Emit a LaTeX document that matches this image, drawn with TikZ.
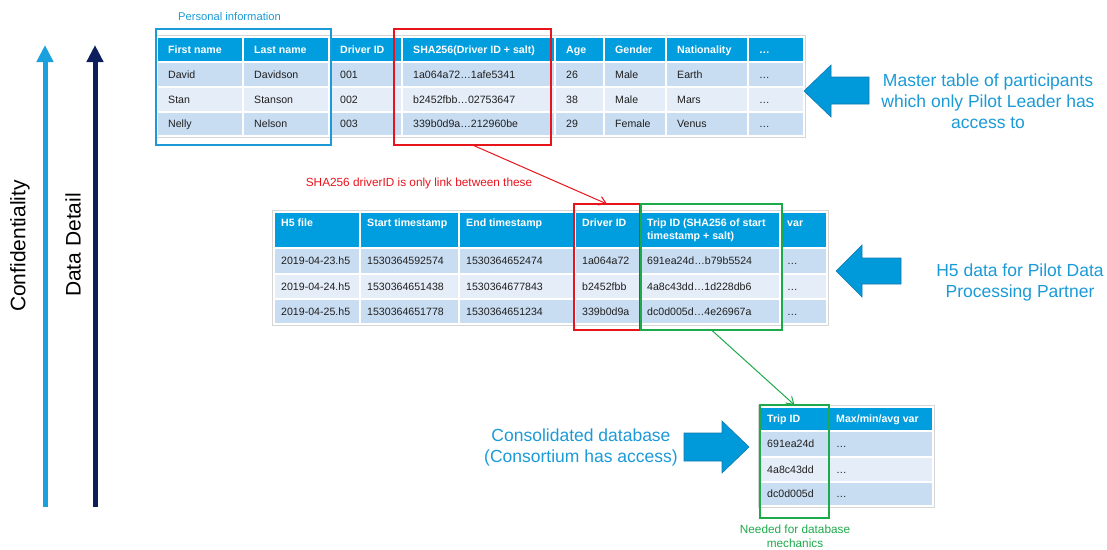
\documentclass[tikz,border=0pt]{standalone}
\usepackage{fontspec}
\setmainfont{Liberation Sans}
\usetikzlibrary{arrows.meta}
\definecolor{hdr}{HTML}{009EDF}
\definecolor{rowA}{HTML}{C9DDF2}
\definecolor{rowB}{HTML}{E5EDF8}
\definecolor{framegray}{HTML}{D6D6D6}
\definecolor{lblue}{HTML}{1B9AD7}
\definecolor{arrowblue}{HTML}{0099DA}
\definecolor{arrowedge}{HTML}{1279AE}
\definecolor{navy}{HTML}{0C1F5C}
\definecolor{confc}{HTML}{1AA0DF}
\definecolor{redc}{HTML}{E8141C}
\definecolor{greenc}{HTML}{1DAA4A}
\definecolor{txt}{HTML}{1F1F1F}
\tikzset{
  cellbg/.style={draw=white, line width=1.6pt, inner sep=0pt, outer sep=0pt},
  mhtxt/.style={font=\fontsize{10.6}{13}\selectfont\bfseries, text=white, inner sep=0pt, align=left},
  htxt/.style={font=\fontsize{10.6}{13}\selectfont\bfseries, text=white, inner sep=0pt, text height=8.6pt, text depth=1pt},
  btxt/.style={font=\fontsize{10.6}{13}\selectfont, text=txt, inner sep=0pt, text height=8.6pt, text depth=1pt},
  tframe/.style={draw=framegray, line width=0.8pt},
  hl/.style={line width=1.6pt, inner sep=0pt, outer sep=0pt},
  bigarrow/.style={fill=arrowblue, draw=arrowedge, line width=0.6pt},
  bigtxt/.style={font=\fontsize{17.5}{21}\selectfont, text=lblue, align=center, inner sep=0pt},
  axistxt/.style={font=\fontsize{21}{25}\selectfont, text=black, rotate=90, inner sep=0pt},
  smalllbl/.style={font=\fontsize{11.8}{14}\selectfont, align=center, inner sep=0pt},
  link/.style={line width=1pt, -{Straight Barb[length=7pt,width=9pt]}},
  axis/.style={line width=5pt, -{Triangle[length=17pt,width=16pt]}}
}
\newcommand\tcell[8]{%
  \node[cellbg, fill=#6, minimum width={(#4)-(#2)}, minimum height={(#5)-(#3)}, anchor=north west] (#1) at (#2,#3) {};
  \node[#7, anchor=west] (#1-t) at ([xshift=\cpad]#1.west) {#8};
}
\newcommand\trow[6]{%
  \foreach \xa/\xb/\cellT [count=\c] in {#6} {\tcell{#1\c}{\xa}{#2}{\xb}{#3}{#4}{#5}{\cellT}}%
}
\begin{document}
\begin{tikzpicture}[x=1pt,y=-1pt]
\useasboundingbox (0,0) rectangle (1107,549);

% ---------- axes ----------
\coordinate (cb) at (45,507); \coordinate (ct) at (45,45);
\coordinate (db) at (95,507); \coordinate (dt) at (95,45);
\draw[axis, confc] (cb) -- (ct);
\draw[axis, navy] (db) -- (dt);
\node[axistxt] (conf) at (20,246) {Confidentiality};
\node[axistxt] (detail) at (73,245) {Data Detail};

% ---------- top table ----------
\def\cpad{11pt}
\draw[tframe] (155.5,35.5) rectangle (805.5,137.5);
\trow{TH}{37}{62}{hdr}{htxt}{157/243/First name, 243/329/Last name, 329/402/Driver ID, 402/555/SHA256(Driver ID + salt), 555/604/Age, 604/666/Gender, 666/748/Nationality, 748/804/…}
\trow{TA}{62}{87}{rowA}{btxt}{157/243/David, 243/329/Davidson, 329/402/001, 402/555/1a064a72…1afe5341, 555/604/26, 604/666/Male, 666/748/Earth, 748/804/…}
\trow{TB}{87}{112}{rowB}{btxt}{157/243/Stan, 243/329/Stanson, 329/402/002, 402/555/b2452fbb…02753647, 555/604/38, 604/666/Male, 666/748/Mars, 748/804/…}
\trow{TC}{112}{136}{rowA}{btxt}{157/243/Nelly, 243/329/Nelson, 329/402/003, 402/555/339b0d9a…212960be, 555/604/29, 604/666/Female, 666/748/Venus, 748/804/…}

\node[hl, draw=lblue, minimum width=175, minimum height=116, anchor=north west] (personal) at (156,29) {};
\node[hl, draw=redc, minimum width=157, minimum height=116, anchor=north west] (redtop) at (394,29) {};
\node[inner sep=0pt, font=\fontsize{11.2}{13}\selectfont, text=lblue] (pilbl) at (229.5,16) {Personal information};

% ---------- middle table ----------
\def\cpad{7pt}
\draw[tframe] (272.5,210.5) rectangle (828.5,325.5);
\trow{MH}{212}{248}{hdr}{mhtxt}{274/360/\strut H5 file\\\strut, 360/459/\strut Start timestamp\\\strut, 459/575/\strut End timestamp\\\strut, 575/640/\strut Driver ID\\\strut, 640/780/\strut Trip ID (SHA256 of start\\\strut timestamp + salt), 780/827/\strut var\\\strut}
\trow{MA}{248}{274}{rowA}{btxt}{274/360/2019-04-23.h5, 360/459/1530364592574, 459/575/1530364652474, 575/640/1a064a72, 640/780/691ea24d…b79b5524, 780/827/…}
\trow{MB}{274}{299}{rowB}{btxt}{274/360/2019-04-24.h5, 360/459/1530364651438, 459/575/1530364677843, 575/640/b2452fbb, 640/780/4a8c43dd…1d228db6, 780/827/…}
\trow{MC}{299}{324}{rowA}{btxt}{274/360/2019-04-25.h5, 360/459/1530364651778, 459/575/1530364651234, 575/640/339b0d9a, 640/780/dc0d005d…4e26967a, 780/827/…}

\node[hl, draw=redc, minimum width=66, minimum height=126, anchor=north west] (redmid) at (574,204) {};
\node[hl, draw=greenc, minimum width=141, minimum height=126, anchor=north west] (greenmid) at (641,204) {};

% ---------- bottom table ----------
\draw[tframe] (758.5,405.5) rectangle (934.5,507.5);
\trow{BH}{407}{431}{hdr}{htxt}{760/829/Trip ID, 829/933/{Max/min/avg var}}
\trow{BA}{431}{457}{rowA}{btxt}{760/829/691ea24d, 829/933/…}
\trow{BB}{457}{482}{rowB}{btxt}{760/829/4a8c43dd, 829/933/…}
\trow{BC}{482}{506}{rowA}{btxt}{760/829/dc0d005d, 829/933/…}

\node[hl, draw=greenc, minimum width=69, minimum height=113, anchor=north west] (greenbot) at (760,405) {};

% ---------- links ----------
\draw[link, redc] (redtop.south) -- (redmid.north);
\draw[link, greenc] (greenmid.south) -- (greenbot.north);
\node[smalllbl, text=redc] (redlbl) at (419,183) {SHA256 driverID is only link between these};
\node[smalllbl, text=greenc] (greenlbl) at (795,536) {Needed for database\\mechanics};

% ---------- block arrows ----------
\draw[bigarrow] (804,91) -- (831,65) -- (831,77) -- (869,77) -- (869,104) -- (831,104) -- (831,117) -- cycle;
\draw[bigarrow] (836,271) -- (862,245) -- (862,258) -- (901,258) -- (901,284) -- (862,284) -- (862,297) -- cycle;
\draw[bigarrow] (749,447) -- (722,421) -- (722,433) -- (684,433) -- (684,461) -- (722,461) -- (722,473) -- cycle;

% ---------- big labels ----------
\node[bigtxt] (lbl1) at (988,101) {Master table of participants\\which only Pilot Leader has\\access to};
\node[bigtxt] (lbl2) at (1020,282) {H5 data for Pilot Data\\Processing Partner};
\node[bigtxt] (lbl3) at (581,447) {Consolidated database\\(Consortium has access)};
\end{tikzpicture}
\end{document}
